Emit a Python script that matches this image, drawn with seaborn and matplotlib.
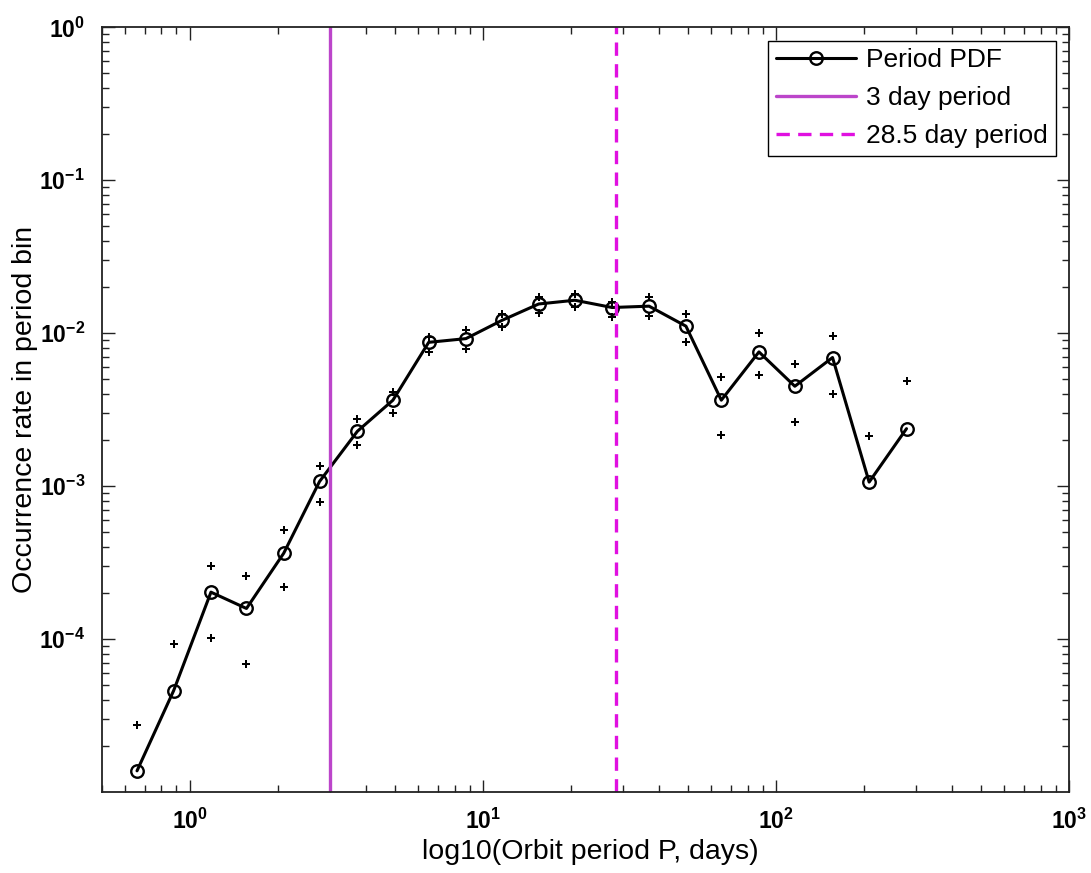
import matplotlib

matplotlib.use("Agg")

import matplotlib.pyplot as plt
import matplotlib.ticker as mticker
import numpy as np
import pandas as pd
import seaborn as sns

# bin centres (days) and occurrence rates
periods = [0.66, 0.88, 1.18, 1.56, 2.09, 2.77, 3.73, 4.93, 6.53, 8.75, 11.6,
           15.5, 20.6, 27.6, 36.9, 49.3, 65.1, 87.5, 116, 156, 208, 279]
pdf = [1.37e-5, 4.58e-5, 2.02e-4, 1.58e-4, 3.63e-4, 1.07e-3, 2.28e-3, 3.64e-3,
       8.7e-3, 9.2e-3, 1.21e-2, 1.55e-2, 1.64e-2, 1.47e-2, 1.50e-2, 1.11e-2,
       3.64e-3, 7.53e-3, 4.49e-3, 6.92e-3, 1.06e-3, 2.37e-3]
pdf_upper = [2.75e-5, 9.3e-5, 3.0e-4, 2.56e-4, 5.18e-4, 1.36e-3, 2.75e-3, 4.1e-3,
             9.4e-3, 1.04e-2, 1.34e-2, 1.73e-2, 1.80e-2, 1.6e-2, 1.71e-2, 1.33e-2,
             5.17e-3, 1.0e-2, 6.25e-3, 9.54e-3, 2.11e-3, 4.84e-3]
pdf_lower = [np.nan, np.nan, 1.02e-4, 6.8e-5, 2.17e-4, 7.86e-4, 1.85e-3, 3.0e-3,
             7.5e-3, 7.9e-3, 1.09e-2, 1.36e-2, 1.49e-2, 1.28e-2, 1.29e-2, 8.7e-3,
             2.15e-3, 5.30e-3, 2.61e-3, 3.98e-3, np.nan, np.nan]

short_period = 3.0
long_period = 28.5

df = pd.DataFrame({"period": periods, "pdf": pdf})
bounds = pd.DataFrame({
    "period": periods + periods,
    "rate": pdf_upper + pdf_lower,
}).dropna()

sns.set_style("ticks")
plt.rcParams["font.family"] = ["Liberation Sans", "DejaVu Sans"]
plt.rcParams["axes.unicode_minus"] = False
plt.rcParams["text.color"] = "black"
plt.rcParams["axes.labelcolor"] = "black"

fig = plt.figure(figsize=(10.91, 8.73), dpi=100)
ax = fig.add_axes([0.0932, 0.0931, 0.8866, 0.8756])
ax.set_xscale("log")
ax.set_yscale("log")

sns.lineplot(data=df, x="period", y="pdf", estimator=None, sort=True,
             color="black", linewidth=2.2, marker="o", markersize=9,
             markerfacecolor="none", markeredgecolor="black", markeredgewidth=1.7,
             label="Period PDF", ax=ax)
sns.scatterplot(data=bounds, x="period", y="rate", marker="P", s=34,
                color="black", linewidth=0, legend=False, ax=ax)
ax.axvline(short_period, color="#BC45CA", linewidth=2.4, label="3 day period")
ax.axvline(long_period, color="#E010E0", linewidth=2.4, linestyle=(0, (4, 2.5)),
           label="28.5 day period")

ax.set_xlim(0.5, 1000)
ax.set_ylim(1e-5, 1)
ax.set_xticks([1, 10, 100, 1000])
ax.set_yticks([1e-4, 1e-3, 1e-2, 1e-1, 1])
ax.xaxis.set_major_formatter(mticker.LogFormatterSciNotation())
ax.yaxis.set_major_formatter(mticker.LogFormatterSciNotation())
ax.xaxis.set_minor_locator(mticker.LogLocator(base=10, subs=np.arange(2, 10), numticks=20))
ax.yaxis.set_minor_locator(mticker.LogLocator(base=10, subs=np.arange(2, 10), numticks=20))
ax.xaxis.set_minor_formatter(mticker.NullFormatter())
ax.yaxis.set_minor_formatter(mticker.NullFormatter())
ax.tick_params(which="both", direction="in", top=True, right=True,
               labelsize=16.5, width=1.0, color="#222222", labelcolor="black")
ax.tick_params(which="major", length=9, pad=12)
ax.tick_params(which="minor", length=5)
plt.setp(ax.get_xticklabels() + ax.get_yticklabels(), fontweight="bold")
for side in ax.spines.values():
    side.set_linewidth(1.3)
    side.set_color("#222222")

ax.set_xlabel("log10(Orbit period P, days)", fontsize=20.5)
ax.set_ylabel("Occurrence rate in period bin", fontsize=20.5)
ax.xaxis.set_label_coords(0.505, -0.062)
ax.yaxis.set_label_coords(-0.066, 0.5)

ax.legend(loc="upper right", fontsize=19, frameon=True, fancybox=False,
          edgecolor="black", framealpha=1, handlelength=3.0, labelspacing=0.52,
          borderpad=0.3, handletextpad=0.4, borderaxespad=0.5)
ax.get_legend().get_frame().set_linewidth(1.0)

fig.savefig("out.png", dpi=100, facecolor="white")
